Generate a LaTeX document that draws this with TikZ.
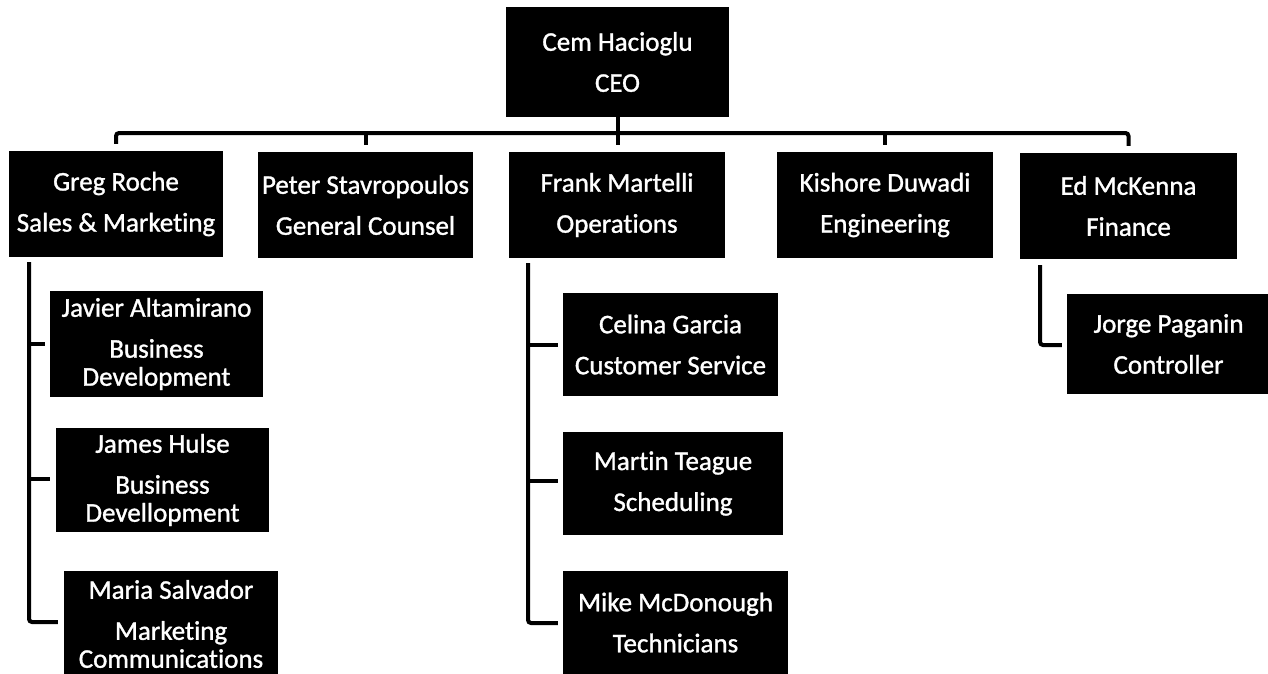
\documentclass[tikz,border=0pt]{standalone}
\usepackage{fontspec}
\setmainfont[Ligatures=NoCommon,FakeBold=1.2]{Carlito}
\usetikzlibrary{calc}
\begin{document}
\begin{tikzpicture}[x=1pt,y=-1pt,
  box/.style={fill=black,text=white,inner sep=0pt,align=center,
    font=\fontsize{27}{41}\selectfont},
  conn/.style={line width=4pt,draw=black,rounded corners=3pt}]
\useasboundingbox (0,0) rectangle (1268,673);
% level 1
\node[box,minimum width=223pt,minimum height=110pt] (ceo) at (617.5,62) {Cem Hacioglu\\CEO};
% level 2
\node[box,minimum width=214pt,minimum height=106pt] (greg) at (116,204) {Greg Roche\\Sales \& Marketing};
\node[box,minimum width=215pt,minimum height=106pt] (peter) at (365.5,205) {Peter Stavropoulos\\General Counsel};
\node[box,minimum width=216pt,minimum height=106pt] (frank) at (617,205) {Frank Martelli\\Operations};
\node[box,minimum width=216pt,minimum height=106pt] (kishore) at (885,205) {Kishore Duwadi\\Engineering};
\node[box,minimum width=217pt,minimum height=106pt] (ed) at (1128.5,206) {Ed McKenna\\Finance};
% level 3 - sales
\node[box,minimum width=213pt,minimum height=106pt] (javier) at (156.5,344) {Javier Altamirano\\Business\\[-13pt]Development};
\node[box,minimum width=213pt,minimum height=104pt] (james) at (162.5,480) {James Hulse\\Business\\[-13pt]Devellopment};
\node[box,minimum width=214pt,minimum height=106pt] (maria) at (171,624) {Maria Salvador\\Marketing\\[-13pt]Communications};
% level 3 - operations
\node[box,minimum width=215pt,minimum height=103pt] (celina) at (670.5,344.5) {Celina Garcia\\Customer Service};
\node[box,minimum width=220pt,minimum height=103pt] (martin) at (673,483.5) {Martin Teague\\Scheduling};
\node[box,minimum width=225pt,minimum height=103pt] (mike) at (675.5,622.5) {Mike McDonough\\Technicians};
% level 3 - finance
\node[box,minimum width=203pt,minimum height=100pt] (jorge) at (1168.5,344) {Jorge Paganin\\Controller};
% helper coordinates
\coordinate (bus) at (0,133);
\coordinate (gv) at (29,0);
\coordinate (fv) at (528,0);
\coordinate (ev) at (1040,0);
% bus
\draw[conn] ($(greg.north)+(0,-7)$) -- (greg.north |- bus) -- (ed.north |- bus) -- ($(ed.north)+(0,-7)$);
\draw[conn] ($(peter.north)+(0,-7)$) -- (peter.north |- bus);
\draw[conn] ($(kishore.north)+(0,-7)$) -- (kishore.north |- bus);
\draw[conn] (ceo.south) -- ($(ceo.south |- frank.north)+(0,-7)$);
% sales branch
\draw[conn] ($(greg.south -| gv)+(0,5)$) |- ($(maria.west)+(-6,-2)$);
\draw[conn] ($(javier.west)+(-5,0)$) -- (javier.west -| gv);
\draw[conn] ($(james.west)+(-6,-1)$) -- ($(james.west -| gv)+(0,-1)$);
% operations branch
\draw[conn] ($(frank.south -| fv)+(0,5)$) |- ($(mike.west)+(-5,0.5)$);
\draw[conn] ($(celina.west)+(-5,0.5)$) -- ($(celina.west -| fv)+(0,0.5)$);
\draw[conn] ($(martin.west)+(-5,-2.5)$) -- ($(martin.west -| fv)+(0,-2.5)$);
% finance branch
\draw[conn] ($(ed.south -| ev)+(0,6)$) |- ($(jorge.west)+(-5,1)$);
\end{tikzpicture}
\end{document}
